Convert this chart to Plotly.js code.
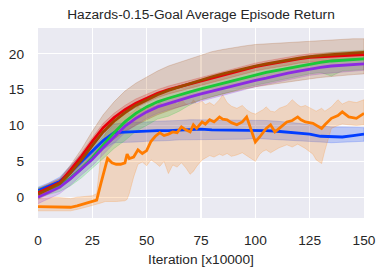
<!DOCTYPE html>
<html>
<head>
<meta charset="utf-8">
<script src="https://cdn.plot.ly/plotly-3.0.1.min.js"></script>
<style>html,body{margin:0;padding:0;background:#fff;}#chart{width:385px;height:275px;}</style>
</head>
<body>
<div id="chart"></div>
<script>
// shared iteration grid for smooth series
const iters = [0,5,10,15,20,25,30,35,40,45,50,55,60,65,70,75,80,85,90,95,100,105,110,115,120,125,130,135,140,145,150];

const redMean  = [0.6,1.3,2.0,3.8,5.7,7.8,9.7,11.1,12.2,13.1,13.8,14.5,15.0,15.4,15.9,16.3,16.7,17.1,17.5,17.8,18.2,18.5,18.8,19.0,19.3,19.5,19.6,19.7,19.8,19.85,19.9];
const redUp    = [1.1,1.8,2.5,4.3,6.2,8.3,10.3,11.7,12.8,13.7,14.4,15.0,15.5,15.9,16.4,16.8,17.2,17.6,18.0,18.3,18.7,19.0,19.3,19.5,19.8,20.0,20.1,20.2,20.3,20.4,20.4];
const redLo    = [0.1,0.8,1.5,3.2,5.1,7.2,9.1,10.5,11.6,12.5,13.2,13.9,14.4,14.8,15.3,15.7,16.1,16.5,16.9,17.2,17.6,17.9,18.2,18.4,18.7,18.9,19.0,19.1,19.2,19.3,19.3];

const brownMean = [0.4,1.1,1.9,3.4,5.2,7.2,9.1,10.6,11.8,12.8,13.6,14.3,14.9,15.4,15.9,16.3,16.8,17.2,17.6,17.9,18.3,18.6,18.9,19.2,19.4,19.6,19.8,19.9,20.0,20.1,20.2];
const brownUp   = [1.2,1.9,2.6,4.5,6.7,9.2,11.5,13.3,14.8,15.9,16.8,17.6,18.3,18.8,19.4,19.9,20.3,20.6,20.9,21.1,21.3,21.4,21.5,21.6,21.7,21.8,21.9,22.0,22.0,22.1,22.1];
const brownLo   = [-0.3,0.4,1.2,2.4,3.8,5.3,6.8,8.1,9.2,10.0,10.8,11.5,12.1,12.6,13.1,13.6,14.0,14.4,14.8,15.1,15.4,15.6,15.9,16.1,16.3,16.5,16.7,16.9,17.0,17.1,17.2];

const greenMean = [0.7,1.1,1.6,2.7,4.0,5.5,7.3,9.0,10.5,11.7,12.6,13.3,13.8,14.3,14.7,15.1,15.5,15.8,16.2,16.7,17.1,17.4,17.7,18.0,18.3,18.6,18.8,19.0,19.1,19.2,19.3];
const greenUp   = [1.3,1.7,2.3,3.6,5.1,6.7,8.5,10.2,11.7,12.9,13.8,14.5,15.0,15.5,15.9,16.3,16.7,17.0,17.4,17.9,18.3,18.6,18.9,19.2,19.5,19.8,20.0,20.2,20.3,20.4,20.5];
const greenLo   = [0.0,0.4,0.8,1.6,2.7,4.0,5.4,6.8,7.9,9.2,10.0,10.9,11.3,12.0,12.9,13.6,14.0,14.4,14.8,15.3,15.7,16.0,16.3,16.6,16.9,17.2,17.4,16.9,17.6,17.7,17.8];

const purpleMean = [0.0,0.7,1.4,2.6,4.0,5.3,6.9,8.4,9.9,11.0,11.9,12.6,13.1,13.6,14.0,14.4,14.8,15.1,15.5,15.9,16.3,16.6,17.0,17.3,17.6,17.9,18.1,18.3,18.4,18.5,18.6];
const purpleUp   = [0.8,1.5,2.2,3.4,4.8,6.1,7.7,9.2,10.7,11.8,12.7,13.4,13.9,14.4,14.8,15.2,15.6,15.9,16.3,16.7,17.1,17.4,17.8,18.1,18.4,18.7,18.9,19.1,19.2,19.3,19.4];
const purpleLo   = [-0.9,-0.2,0.5,1.7,3.1,4.4,6.0,7.5,9.0,10.1,11.0,11.7,12.2,12.7,13.1,13.5,13.9,14.2,14.6,15.0,15.4,15.7,16.1,16.4,16.7,17.0,17.2,17.4,17.5,17.6,17.7];

const blueMean = [0.9,1.5,2.2,3.5,5.0,6.5,7.9,9.0,9.1,9.1,9.2,9.3,9.3,9.4,9.5,9.5,9.4,9.4,9.3,9.3,9.3,9.3,9.2,9.1,9.0,8.8,8.5,8.4,8.4,8.6,8.8];
const blueUp   = [1.4,2.0,2.8,4.4,6.0,7.6,9.0,10.2,10.4,10.4,10.5,10.6,10.6,10.7,10.8,10.8,10.7,10.7,10.7,10.7,10.8,10.7,10.6,10.5,10.3,10.1,9.9,9.8,9.8,9.7,9.7];
const blueLo   = [0.4,1.0,1.6,2.6,3.9,5.3,6.7,7.6,7.7,7.7,7.8,7.9,7.9,8.0,8.1,8.1,8.1,8.1,8.1,8.1,8.2,8.2,8.1,8.0,7.9,7.8,7.7,7.6,7.6,7.7,7.8];

// orange series (noisy) on its own iteration grid
const orangeIters = [0,4,8,12,15,18,22,25,27,29,31,32,34,36,38,40,41,42,44,46,48,50,52,54,56,58,60,62,64,66,68,70,71.5,73,75.5,77,79,81,83.5,85,87,89,91.5,94,96,98,100,102,103.5,105,107,109,111,114.5,117,119.5,121,123,126.5,128,130.5,132,135,138,140,143,146.5,150];
const orangeMean = [-1.3,-1.3,-1.3,-1.35,-1.4,-1.2,-0.8,-0.6,-0.4,2.0,4.2,5.4,4.8,4.6,4.6,4.8,6.0,5.4,5.6,6.6,6.1,6.5,7.8,8.5,9.0,8.6,8.8,9.1,9.0,9.8,9.4,9.1,10.1,9.6,10.5,10.2,10.8,10.5,11.2,10.9,10.8,10.4,10.1,10.5,11.2,9.5,7.7,8.4,9.0,9.6,10.1,9.1,9.6,10.5,10.7,11.2,10.8,10.5,10.3,10.0,9.6,10.1,11.0,11.4,11.9,11.2,11.0,11.7];
const orangeLo = [-1.9,-1.9,-1.9,-1.9,-1.9,-1.7,-1.4,-1.2,-1.0,-0.8,-0.6,-0.6,-0.6,-0.6,-0.6,-0.5,-0.3,0.5,2.8,4.6,4.9,4.4,5.2,4.8,4.3,5.0,3.3,4.5,4.2,4.8,4.1,3.2,3.6,4.3,5.2,5.4,5.8,5.6,6.0,5.8,6.1,5.7,5.9,6.2,5.8,5.4,5.0,6.0,6.4,6.6,6.2,6.6,6.9,7.3,7.0,7.4,7.1,6.8,6.0,5.2,4.7,6.5,9.6,10.0,10.2,10.1,10.0,10.1];
const orangeUp = [-0.2,-0.1,0.0,-0.1,-0.2,0.0,0.1,0.2,0.5,6.0,9.0,10.0,10.5,10.8,11.2,11.5,12.0,11.6,12.0,12.6,12.2,12.8,13.0,12.6,13.2,12.8,13.0,13.4,12.9,13.6,13.0,12.8,13.6,13.0,13.4,12.9,13.2,12.8,13.6,14.3,13.2,12.7,12.4,12.8,12.2,11.8,11.6,11.9,12.2,12.6,12.0,11.9,12.4,12.8,13.6,12.9,12.6,12.8,12.2,12.0,12.4,12.0,12.6,13.6,13.0,13.4,13.2,13.6];

const xTicks = [0,25,50,75,100,125,150];
const yTicks = [0,5,10,15,20];

const series = [
  {x: iters, m: blueMean, up: blueUp, lo: blueLo, c: '2,62,255'},
  {x: orangeIters, m: orangeMean, up: orangeUp, lo: orangeLo, c: '255,124,0'},
  {x: iters, m: greenMean, up: greenUp, lo: greenLo, c: '26,201,56'},
  {x: iters, m: purpleMean, up: purpleUp, lo: purpleLo, c: '139,43,226'},
  {x: iters, m: redMean, up: redUp, lo: redLo, c: '232,0,11'},
  {x: iters, m: brownMean, up: brownUp, lo: brownLo, c: '159,72,0'}
];

const traces = [];
series.forEach(s => {
  traces.push({
    x: s.x.concat(s.x.slice().reverse()),
    y: s.up.concat(s.lo.slice().reverse()),
    type: 'scatter', mode: 'lines', fill: 'toself',
    fillcolor: 'rgba(' + s.c + ',0.2)',
    line: {width: 0.8, color: 'rgba(' + s.c + ',0.25)'},
    hoverinfo: 'skip', showlegend: false
  });
});
series.forEach(s => {
  traces.push({
    x: s.x, y: s.m, type: 'scatter', mode: 'lines',
    line: {width: 2.8, color: 'rgb(' + s.c + ')'},
    showlegend: false
  });
});

const font = {family: 'Liberation Sans, Arial, sans-serif', color: '#262626'};
const layout = {
  width: 385, height: 275,
  margin: {l: 38, r: 21, t: 28, b: 57},
  paper_bgcolor: '#ffffff',
  plot_bgcolor: '#eaeaf2',
  showlegend: false,
  title: {text: 'Hazards-0.15-Goal Average Episode Return', x: 0.522, xanchor: 'center', y: 0.95, yanchor: 'middle',
          font: Object.assign({size: 13.7}, font)},
  xaxis: {
    range: [0, 150], tickvals: xTicks, ticktext: xTicks.map(String),
    showgrid: true, gridcolor: '#ffffff', gridwidth: 1.3, zeroline: false,
    showline: false, ticks: '', ticklabelstandoff: 12,
    tickfont: Object.assign({size: 13.7}, font),
    title: {text: 'Iteration [x10000]', font: Object.assign({size: 13.7}, font), standoff: 7}
  },
  yaxis: {
    range: [-2.9, 23.6], tickvals: yTicks, ticktext: yTicks.map(String),
    showgrid: true, gridcolor: '#ffffff', gridwidth: 1.3, zeroline: false,
    showline: false, ticks: '', ticklabelstandoff: 13,
    tickfont: Object.assign({size: 13.7}, font)
  }
};

Plotly.newPlot('chart', traces, layout, {staticPlot: true, displayModeBar: false});
</script>
</body>
</html>
